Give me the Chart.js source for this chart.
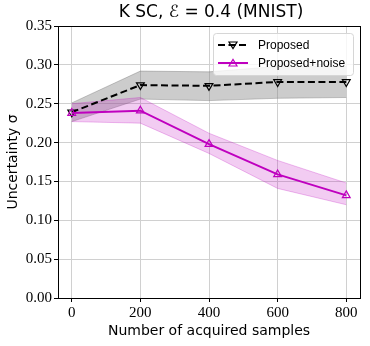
<!DOCTYPE html>
<html>
<head>
<meta charset="utf-8">
<script src="https://cdn.jsdelivr.net/npm/chart.js@4"></script>
<style>
html,body{margin:0;padding:0;background:#fff;}
#wrap{width:370px;height:346px;position:relative;}
</style>
</head>
<body>
<div id="wrap"><canvas id="c" width="370" height="346"></canvas></div>
<script>
const chartTitle = "K SC, \u2130 = 0.4 (MNIST)";
const xLabel = "Number of acquired samples";
const yLabel = "Uncertainty \u03C3";
const samples = [0, 200, 400, 600, 800];
const xTicks = [0, 200, 400, 600, 800];
const yTicks = [0.00, 0.05, 0.10, 0.15, 0.20, 0.25, 0.30, 0.35];
const seriesNames = ["Proposed", "Proposed+noise"];
const proposed = [0.239, 0.274, 0.273, 0.278, 0.278];
const proposedLow = [0.227, 0.256, 0.254, 0.257, 0.258];
const proposedHigh = [0.251, 0.292, 0.291, 0.298, 0.298];
const noise = [0.238, 0.241, 0.198, 0.159, 0.132];
const noiseLow = [0.227, 0.225, 0.186, 0.141, 0.120];
const noiseHigh = [0.250, 0.258, 0.212, 0.177, 0.148];

const pts = arr => arr.map((v, i) => ({x: samples[i], y: v}));

const frame = {
  id: 'frame',
  afterDraw(chart) {
    const ctx = chart.ctx, a = chart.chartArea;
    ctx.save();
    ctx.strokeStyle = '#000';
    ctx.lineWidth = 1;
    ctx.strokeRect(Math.round(a.left) + 0.5, Math.round(a.top) + 0.5, Math.round(a.right - a.left), Math.round(a.bottom - a.top));
    // title
    ctx.fillStyle = '#000';
    ctx.font = '17px "DejaVu Sans"';
    ctx.textAlign = 'center';
    ctx.textBaseline = 'middle';
    ctx.fillText(chartTitle, (a.left + a.right) / 2 + 2, 13);
    // legend
    const lx = 213, ly = 33, lw = 140, lh = 42;
    ctx.beginPath();
    if (ctx.roundRect) ctx.roundRect(lx + 0.5, ly + 0.5, lw, lh, 3); else ctx.rect(lx + 0.5, ly + 0.5, lw, lh);
    ctx.fillStyle = 'rgba(255,255,255,0.8)';
    ctx.fill();
    ctx.strokeStyle = '#d6d6d6';
    ctx.stroke();
    const items = [chart.data.datasets[4], chart.data.datasets[5]];
    items.forEach((ds, i) => {
      const y = 45 + i * 18;
      ctx.save();
      ctx.strokeStyle = ds.borderColor;
      ctx.lineWidth = ds.borderWidth;
      ctx.setLineDash(ds.borderDash || []);
      ctx.beginPath();
      ctx.moveTo(218, y); ctx.lineTo(248, y);
      ctx.stroke();
      ctx.restore();
      ctx.save();
      ctx.setLineDash([]);
      ctx.strokeStyle = ds.pointBorderColor;
      ctx.fillStyle = '#fff';
      ctx.lineWidth = 1.2;
      const r = 4, cx = 233;
      ctx.beginPath();
      if (ds.pointRotation === 180) {
        ctx.moveTo(cx - r, y - r * 0.75); ctx.lineTo(cx + r, y - r * 0.75); ctx.lineTo(cx, y + r * 0.9);
      } else {
        ctx.moveTo(cx - r, y + r * 0.75); ctx.lineTo(cx + r, y + r * 0.75); ctx.lineTo(cx, y - r * 0.9);
      }
      ctx.closePath();
      ctx.stroke();
      ctx.restore();
      ctx.fillStyle = '#000';
      ctx.font = '12px "Liberation Sans"';
      ctx.textAlign = 'left';
      ctx.textBaseline = 'middle';
      ctx.fillText(ds.label, 258, y + 1);
    });
    ctx.restore();
  }
};

new Chart(document.getElementById('c'), {
  type: 'line',
  data: {
    datasets: [
      {label: 'pl', data: pts(proposedLow), borderColor: 'rgba(100,100,100,0.35)', borderWidth: 1, pointRadius: 0, fill: false, order: 5, tension: 0},
      {label: 'ph', data: pts(proposedHigh), borderColor: 'rgba(100,100,100,0.35)', borderWidth: 1, pointRadius: 0, backgroundColor: 'rgba(128,128,128,0.4)', fill: 0, order: 4, tension: 0},
      {label: 'nl', data: pts(noiseLow), borderColor: 'rgba(191,0,191,0.25)', borderWidth: 1, pointRadius: 0, fill: false, order: 3, tension: 0},
      {label: 'nh', data: pts(noiseHigh), borderColor: 'rgba(191,0,191,0.25)', borderWidth: 1, pointRadius: 0, backgroundColor: 'rgba(191,0,191,0.2)', fill: 2, order: 2, tension: 0},
      {label: seriesNames[0], data: pts(proposed), borderColor: '#000', borderWidth: 2, borderDash: [7, 3.5], pointStyle: 'triangle', pointRotation: 180, pointRadius: 4.5, pointBorderColor: '#000', pointBackgroundColor: 'rgba(255,255,255,0)', pointBorderWidth: 1.2, fill: false, order: 1, tension: 0},
      {label: seriesNames[1], data: pts(noise), borderColor: '#bf00bf', borderWidth: 2, pointStyle: 'triangle', pointRotation: 0, pointRadius: 4.5, pointBorderColor: '#bf00bf', pointBackgroundColor: 'rgba(255,255,255,0)', pointBorderWidth: 1.2, fill: false, order: 0, tension: 0}
    ]
  },
  options: {
    responsive: false,
    animation: false,
    layout: {padding: {top: 26, right: 10, left: 0, bottom: 0}},
    plugins: {legend: {display: false}, title: {display: false}, tooltip: {enabled: false}},
    scales: {
      x: {
        type: 'linear', min: -40, max: 840,
        afterBuildTicks: s => { s.ticks = xTicks.map(v => ({value: v})); },
        afterFit: s => { s.height = 48; },
        grid: {color: '#d0d0d0', lineWidth: 1, tickColor: '#000', tickLength: 4},
        border: {display: true, color: '#000'},
        ticks: {color: '#000', font: {family: '"Liberation Serif"', size: 15}, padding: 2, maxRotation: 0, callback: v => String(v)},
        title: {display: true, text: xLabel, color: '#000', font: {family: '"DejaVu Sans"', size: 14}, padding: {top: 0, bottom: 6}}
      },
      y: {
        min: 0, max: 0.35,
        afterBuildTicks: s => { s.ticks = yTicks.map(v => ({value: v})); },
        afterFit: s => { s.width = 58; },
        grid: {color: '#d0d0d0', lineWidth: 1, tickColor: '#000', tickLength: 4},
        border: {display: true, color: '#000'},
        ticks: {color: '#000', font: {family: '"Liberation Serif"', size: 15}, padding: 2, callback: v => Number(v).toFixed(2)},
        title: {display: true, text: yLabel, color: '#000', font: {family: '"DejaVu Sans"', size: 14}, padding: {top: 5, bottom: 0}}
      }
    }
  },
  plugins: [frame]
});
</script>
</body>
</html>
